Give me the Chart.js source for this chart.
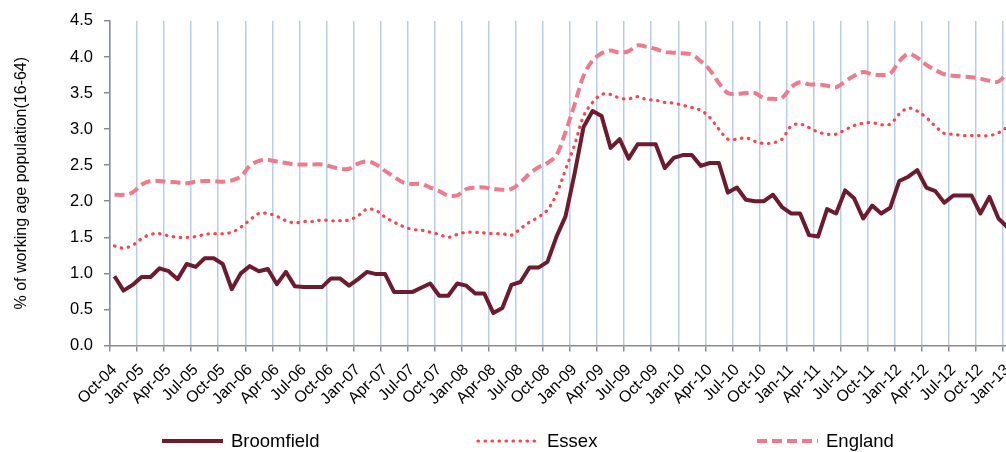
<!DOCTYPE html>
<html>
<head>
<meta charset="utf-8">
<script src="https://cdn.jsdelivr.net/npm/chart.js@4/dist/chart.umd.min.js"></script>
<style>
  body { margin: 0; background: #fff; }
  #wrap { width: 1006px; height: 452px; overflow: hidden; }
</style>
</head>
<body>
<div id="wrap"><canvas id="myChart" width="1012" height="452"></canvas></div>
<script>
var months = [
  'Oct-04','Nov-04','Dec-04',
  'Jan-05','Feb-05','Mar-05','Apr-05','May-05','Jun-05','Jul-05','Aug-05','Sep-05','Oct-05','Nov-05','Dec-05',
  'Jan-06','Feb-06','Mar-06','Apr-06','May-06','Jun-06','Jul-06','Aug-06','Sep-06','Oct-06','Nov-06','Dec-06',
  'Jan-07','Feb-07','Mar-07','Apr-07','May-07','Jun-07','Jul-07','Aug-07','Sep-07','Oct-07','Nov-07','Dec-07',
  'Jan-08','Feb-08','Mar-08','Apr-08','May-08','Jun-08','Jul-08','Aug-08','Sep-08','Oct-08','Nov-08','Dec-08',
  'Jan-09','Feb-09','Mar-09','Apr-09','May-09','Jun-09','Jul-09','Aug-09','Sep-09','Oct-09','Nov-09','Dec-09',
  'Jan-10','Feb-10','Mar-10','Apr-10','May-10','Jun-10','Jul-10','Aug-10','Sep-10','Oct-10','Nov-10','Dec-10',
  'Jan-11','Feb-11','Mar-11','Apr-11','May-11','Jun-11','Jul-11','Aug-11','Sep-11','Oct-11','Nov-11','Dec-11',
  'Jan-12','Feb-12','Mar-12','Apr-12','May-12','Jun-12','Jul-12','Aug-12','Sep-12','Oct-12','Nov-12','Dec-12',
  'Jan-13'
];

var broomfield = [
  0.96,0.76,0.84,0.95,0.95,1.07,1.03,0.92,1.13,1.09,
  1.21,1.21,1.13,0.78,1.00,1.10,1.03,1.06,0.85,1.02,
  0.82,0.81,0.81,0.81,0.93,0.93,0.83,0.92,1.02,0.99,
  0.99,0.74,0.74,0.74,0.80,0.86,0.69,0.69,0.86,0.83,
  0.72,0.72,0.45,0.52,0.84,0.88,1.08,1.08,1.16,1.51,
  1.79,2.38,3.03,3.25,3.18,2.74,2.86,2.59,2.79,2.79,
  2.79,2.46,2.60,2.64,2.64,2.49,2.53,2.53,2.12,2.19,
  2.02,2.00,2.00,2.09,1.92,1.83,1.83,1.53,1.51,1.89,
  1.83,2.15,2.04,1.76,1.94,1.83,1.91,2.28,2.34,2.43,
  2.19,2.14,1.98,2.08,2.08,2.08,1.83,2.06,1.76,1.64
];

var essex = [
  1.38,1.35,1.39,1.48,1.54,1.55,1.52,1.50,1.50,1.51,
  1.54,1.55,1.55,1.57,1.64,1.74,1.83,1.83,1.79,1.73,
  1.70,1.72,1.72,1.74,1.73,1.73,1.74,1.80,1.89,1.87,
  1.78,1.71,1.65,1.61,1.60,1.57,1.54,1.50,1.54,1.57,
  1.57,1.56,1.55,1.55,1.53,1.62,1.71,1.78,1.88,2.10,
  2.44,2.78,3.18,3.37,3.48,3.48,3.43,3.42,3.45,3.41,
  3.40,3.37,3.36,3.33,3.30,3.26,3.16,3.00,2.86,2.86,
  2.88,2.83,2.80,2.81,2.86,3.04,3.07,3.02,2.96,2.93,
  2.93,2.99,3.05,3.08,3.09,3.06,3.07,3.21,3.29,3.25,
  3.16,3.04,2.94,2.93,2.91,2.91,2.91,2.91,2.95,3.03
];

var england = [
  2.09,2.09,2.12,2.23,2.28,2.28,2.27,2.26,2.25,2.27,
  2.28,2.28,2.27,2.29,2.34,2.49,2.56,2.57,2.55,2.53,
  2.51,2.51,2.51,2.51,2.48,2.45,2.45,2.52,2.55,2.51,
  2.42,2.34,2.26,2.24,2.24,2.19,2.14,2.08,2.08,2.17,
  2.19,2.19,2.17,2.16,2.17,2.26,2.38,2.47,2.53,2.64,
  2.96,3.34,3.74,3.95,4.05,4.09,4.06,4.08,4.16,4.14,
  4.11,4.07,4.06,4.05,4.03,3.94,3.82,3.64,3.50,3.49,
  3.50,3.50,3.43,3.42,3.43,3.58,3.65,3.62,3.62,3.60,
  3.58,3.66,3.74,3.79,3.76,3.75,3.77,3.94,4.04,3.99,
  3.89,3.82,3.76,3.74,3.73,3.72,3.70,3.67,3.66,3.78
];

var yTitle = '% of working age population(16-64)';
var fontFamily = '"Liberation Sans", Arial, sans-serif';
var axisGrey = '#8c8c8c';
var gridBlue = '#b9cde5';

// legend drawn by hand so the items can sit spread out like the original
var legendX = [162, 478, 757];
var spreadLegend = {
  id: 'spreadLegend',
  afterDraw: function(chart) {
    var ctx = chart.ctx;
    var y = 441;
    ctx.save();
    chart.data.datasets.forEach(function(ds, i) {
      var x = legendX[i];
      ctx.beginPath();
      ctx.strokeStyle = ds.borderColor;
      ctx.lineWidth = ds.borderWidth;
      ctx.lineCap = ds.borderCapStyle || 'butt';
      ctx.setLineDash(ds.borderDash || []);
      ctx.moveTo(x, y);
      ctx.lineTo(x + 61, y);
      ctx.stroke();
      ctx.setLineDash([]);
      ctx.fillStyle = '#000';
      ctx.font = '18.5px ' + fontFamily;
      ctx.textBaseline = 'middle';
      ctx.fillText(ds.label, x + 69, y + 1);
    });
    ctx.restore();
  }
};

var ctx = document.getElementById('myChart').getContext('2d');
var myChart = new Chart(ctx, {
  type: 'line',
  data: {
    labels: months,
    datasets: [
      {
        label: 'Broomfield',
        data: broomfield,
        borderColor: '#6d1b2f',
        borderWidth: 4,
        tension: 0,
        pointRadius: 0,
        borderJoinStyle: 'round'
      },
      {
        label: 'Essex',
        data: essex,
        borderColor: '#ff4248',
        borderWidth: 3.2,
        borderDash: [0.5, 6.5],
        borderCapStyle: 'round',
        tension: 0.35,
        pointRadius: 0
      },
      {
        label: 'England',
        data: england,
        borderColor: '#ef7a8c',
        borderWidth: 4,
        borderDash: [10, 5],
        tension: 0.35,
        pointRadius: 0
      }
    ]
  },
  options: {
    responsive: false,
    animation: false,
    layout: { padding: { top: 19, right: 0, bottom: 0, left: 0 } },
    plugins: {
      legend: { display: false },
      tooltip: { enabled: false }
    },
    scales: {
      x: {
        offset: true,
        grid: {
          offset: true,
          lineWidth: 1.5,
          color: function(c) { return c.index % 3 === 0 ? gridBlue : 'rgba(0,0,0,0)'; },
          tickColor: function(c) { return c.index % 3 === 0 ? axisGrey : 'rgba(0,0,0,0)'; },
          tickLength: 6
        },
        border: { color: axisGrey, width: 1.5 },
        ticks: {
          autoSkip: false,
          minRotation: 45,
          maxRotation: 45,
          padding: 9,
          color: '#000',
          font: { family: fontFamily, size: 16 },
          callback: function(value, index) {
            return index % 3 === 0 ? this.getLabelForValue(value) : '';
          }
        },
        afterFit: function(scale) {
          scale.height = 106.5;
          scale.paddingLeft = 0;
          scale.paddingRight = 0;
        }
      },
      y: {
        min: 0,
        max: 4.5,
        grid: {
          drawOnChartArea: false,
          tickColor: axisGrey,
          tickLength: 6,
          lineWidth: 1.5
        },
        border: { color: axisGrey, width: 1.5 },
        ticks: {
          stepSize: 0.5,
          padding: 11,
          color: '#000',
          font: { family: fontFamily, size: 16.5 },
          callback: function(v) { return v.toFixed(1); }
        },
        title: {
          display: true,
          text: yTitle,
          color: '#000',
          font: { family: fontFamily, size: 16 },
          padding: { top: 12, bottom: 0 }
        },
        afterFit: function(scale) {
          scale.width = 110;
        }
      }
    }
  },
  plugins: [spreadLegend]
});
</script>
</body>
</html>
